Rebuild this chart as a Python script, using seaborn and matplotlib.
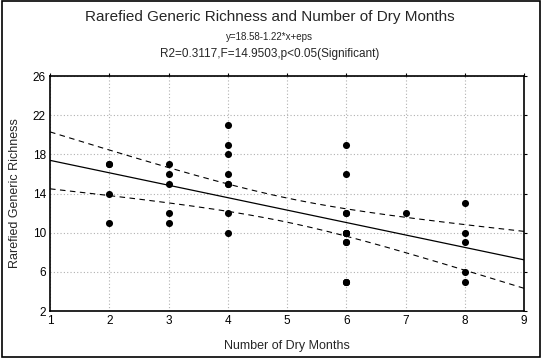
import numpy as np
import pandas as pd
import matplotlib
matplotlib.use('Agg')
import matplotlib.pyplot as plt
import seaborn as sns

# Data (dry months vs rarefied richness)
# 35 observations - overlapping points are repeated
dry_months = [2, 2, 2, 2,
              3, 3, 3, 3, 3,
              4, 4, 4, 4, 4, 4, 4, 4,
              6, 6, 6, 6, 6, 6, 6, 6, 6, 6, 6, 6, 6,
              7,
              8, 8, 8, 8, 8]
richness = [17, 17, 14, 11,
            17, 16, 15, 12, 11,
            21, 19, 18, 16, 15, 15, 12, 10,
            19, 16, 12, 12, 10, 10, 10, 10, 9, 9, 5, 5, 5,
            12,
            13, 10, 9, 6, 5]
x_ticks = [1, 2, 3, 4, 5, 6, 7, 8, 9]
y_ticks = [2, 6, 10, 14, 18, 22, 26]
t_crit = 2.0345  # t(0.975, df=33)

df = pd.DataFrame({'x': dry_months, 'y': richness})

# least squares fit + 95% confidence band for the mean
n = len(df)
xm = df.x.mean()
sxx = ((df.x - xm) ** 2).sum()
slope = ((df.x - xm) * (df.y - df.y.mean())).sum() / sxx
intercept = df.y.mean() - slope * xm
resid = df.y - (intercept + slope * df.x)
s = np.sqrt((resid ** 2).sum() / (n - 2))
xs = np.linspace(1, 9, 200)
fit = intercept + slope * xs
half = t_crit * s * np.sqrt(1 / n + (xs - xm) ** 2 / sxx)
band = pd.DataFrame({'x': xs, 'fit': fit, 'lo': fit - half, 'hi': fit + half})

sns.set_style("white")
plt.rcParams['font.family'] = ['Liberation Sans', 'DejaVu Sans']

fig = plt.figure(figsize=(5.42, 3.59), dpi=100)
ax = fig.add_axes([0.0923, 0.1337, 0.8745, 0.6546])

sns.lineplot(x='x', y='fit', data=band, color='black', linewidth=0.9, ax=ax)
sns.lineplot(x='x', y='hi', data=band, color='black', linewidth=0.8, ax=ax)
sns.lineplot(x='x', y='lo', data=band, color='black', linewidth=0.8, ax=ax)
for ln in ax.lines[1:]:
    ln.set_dashes((5, 4))
sns.scatterplot(x='x', y='y', data=df, color='black', s=26, edgecolor='black',
                linewidth=0, ax=ax, zorder=3)

ax.set_xlim(1, 9)
ax.set_ylim(2, 26)
ax.set_xticks(x_ticks)
ax.set_yticks(y_ticks)
ax.tick_params(labelsize=8.5, length=0, pad=3, colors='black')
# tiny outward ticks on the top and right frame only
ax.tick_params(top=True, right=True, which='major', direction='out')
ax.xaxis.set_tick_params(which='major', top=True, bottom=False)
ax.yaxis.set_tick_params(which='major', right=True, left=False)
for t in ax.xaxis.get_major_ticks():
    t.tick2line.set_markersize(2)
for t in ax.yaxis.get_major_ticks():
    t.tick2line.set_markersize(2)
ax.grid(True, color='#b0b0b0', linestyle=(0, (1, 2)), linewidth=0.8)
for sp in ax.spines.values():
    sp.set_color('black')
    sp.set_linewidth(1.2)
ax.set_xlabel('Number of Dry Months', fontsize=9, labelpad=9)
ax.set_ylabel('Rarefied Generic Richness', fontsize=9, labelpad=8)

fig.text(0.498, 0.953, 'Rarefied Generic Richness and Number of Dry Months',
         ha='center', va='center', fontsize=11)
fig.text(0.498, 0.897, 'y=18.58-1.22*x+eps', ha='center', va='center', fontsize=7)
fig.text(0.498, 0.850, 'R2=0.3117,F=14.9503,p<0.05(Significant)',
         ha='center', va='center', fontsize=8.5)

# outer frame around the whole picture
fig.patches.append(plt.Rectangle((0.004, 0.006), 0.993, 0.99, transform=fig.transFigure,
                                 fill=False, edgecolor='black', linewidth=1.2))

fig.savefig('out.png', dpi=100)
